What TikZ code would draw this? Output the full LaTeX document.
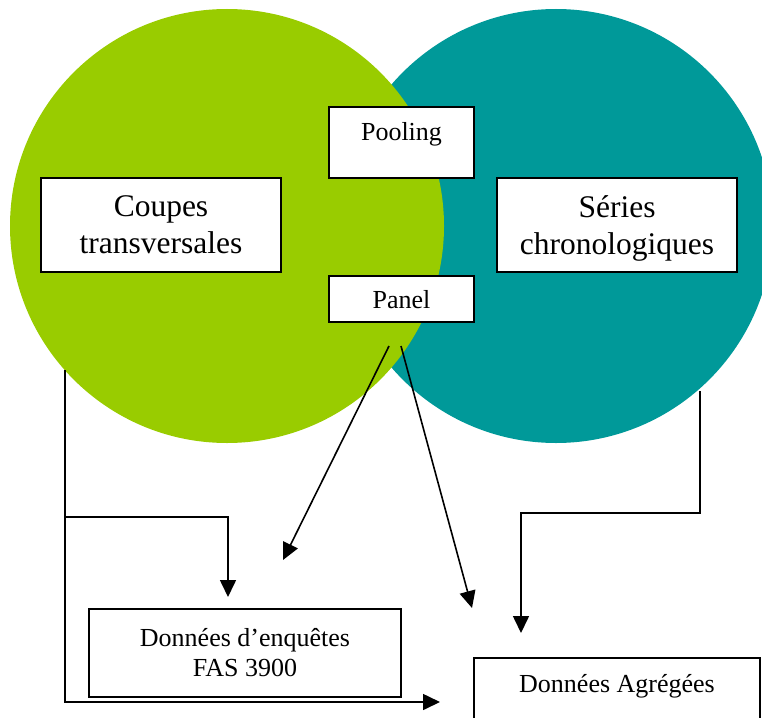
\documentclass[tikz,border=0pt]{standalone}
\usepackage{fontspec}
\setmainfont{Liberation Serif}
\usetikzlibrary{arrows.meta}
\definecolor{vgreen}{HTML}{99CC00}
\definecolor{vteal}{HTML}{009999}
\newcommand{\nodepth}[1]{\raisebox{0pt}[\height][0pt]{#1}}
\tikzset{
  blob/.style={circle, inner sep=0pt, minimum size=434pt},
  box/.style={draw=black, line width=1.8pt, fill=white, rectangle, inner xsep=0pt},
  bigbox/.style={box, align=center, font=\fontsize{31.5}{37}\selectfont, inner ysep=0pt},
  smallbox/.style={box, align=center, font=\fontsize{26}{30}\selectfont, inner ysep=0pt},
  conn/.style={line width=1.6pt, -{Triangle[length=17pt,width=16pt]}},
}
\begin{document}
\begin{tikzpicture}[x=1pt,y=-1pt]
\useasboundingbox (0,0) rectangle (762,717);
\begin{scope}
\clip (0,0) rectangle (762,717);
\node[blob, fill=vteal] (teal) at (556,226) {};
\node[blob, fill=vgreen] (green) at (227,226) {};
\end{scope}

\node[bigbox, minimum width=240pt, minimum height=94pt] (coupes) at (161,225) {Coupes\\transversales};
\node[bigbox, minimum width=240pt, minimum height=94pt] (series) at (617,225) {Séries\\\nodepth{chronologiques}};
\node[smallbox, minimum width=145pt, text height=33pt, text depth=38pt] (pool) at (401.5,142.5) {Pooling};
\node[smallbox, minimum width=145pt, text height=32pt, text depth=14pt] (panel) at (401.5,299) {Panel};
\node[smallbox, minimum width=312pt, minimum height=88pt] (enq) at (245,653) {Données d’enquêtes\\FAS 3900};
\node[smallbox, minimum width=286pt, text height=34pt, text depth=33pt] (agr) at (617,691.5) {Données Agrégées};

\coordinate (gA) at (65,370);
\coordinate (g1) at (65,517);
\coordinate (gT) at (228,597);
\coordinate (gT2) at (440,702);
\coordinate (tA) at (700,391);
\coordinate (t1) at (700,513);
\coordinate (tT) at (521,633);
\coordinate (pA) at (389,346);
\coordinate (pT) at (283,560);
\coordinate (pB) at (401,346);
\coordinate (pT2) at (472,608);

\draw[conn] (gA) |- (gT2);
\draw[conn] (g1) -| (gT);
\draw[conn] (tA) -- (t1) -| (tT);
\draw[conn] (pA) -- (pT);
\draw[conn] (pB) -- (pT2);
\end{tikzpicture}
\end{document}
